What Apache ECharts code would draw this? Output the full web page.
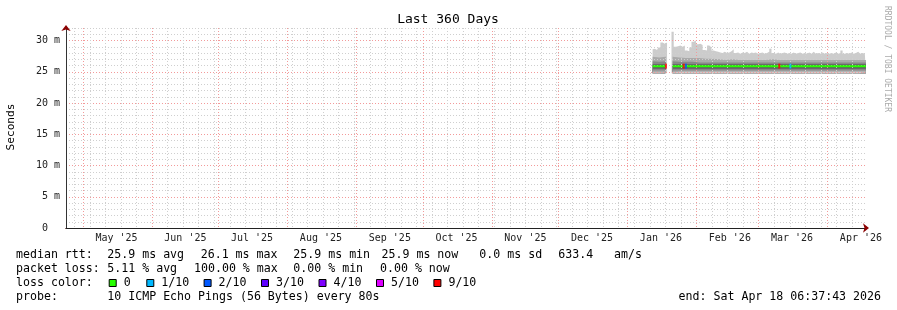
<!DOCTYPE html>
<html><head><meta charset="utf-8">
<script src="https://cdn.jsdelivr.net/npm/echarts@6/dist/echarts.min.js"></script>
<style>html,body{margin:0;padding:0;background:#fff}#c{width:897px;height:310px}</style>
</head><body><div id="c"></div><script>
// ---------- data ----------
const endTime = '2026-04-18T06:37:43Z';
const spanDays = 360;
const firstTopDay = '2026-01-12';
// daily maximum ping (top of smoke), ms; nulls = no data
const topVals = [28.6,28.7,28.5,28.9,29.7,29.5,29.7, null,null,
 31.4,29.0,29.1,29.2,29.0,29.2,28.4,28.3,28.9,29.8,30.0,
 29.4,29.5,29.3,28.5,28.4,29.2,28.9,28.4,28.3,28.2,28.1,28.0,28.2,28.0,28.1,28.3,28.6,28.0,28.1,27.9,28.1,28.0,28.2,27.9,28.1,28.0,28.1,27.9,
 28.0,28.1,27.9,28.0,28.2,28.7,28.0,27.9,28.1,27.9,28.0,28.1,27.9,28.0,27.9,28.1,27.9,28.0,28.1,27.9,28.0,27.9,28.1,27.9,28.2,27.9,28.0,27.9,28.1,27.9,28.0,
 27.9,28.0,27.9,28.1,27.9,28.0,28.4,27.9,28.0,27.9,28.1,27.9,28.0,28.2,27.9,28.0,27.9,28.0];
// lowest ping (bottom of smoke), ms
const smokeFloor = 24.75;
const bandDays = ['2026-01-12','2026-01-15','2026-01-18','2026-01-19','2026-01-21','2026-01-24','2026-01-27','2026-01-30',
 '2026-02-02','2026-02-05','2026-02-08','2026-02-11','2026-02-14','2026-02-17','2026-02-20','2026-02-23','2026-02-26',
 '2026-03-01','2026-03-04','2026-03-07','2026-03-10','2026-03-13','2026-03-16','2026-03-19','2026-03-22','2026-03-25','2026-03-28','2026-03-31',
 '2026-04-03','2026-04-06','2026-04-09','2026-04-12','2026-04-15','2026-04-18'];
const b2Lo = [24.9,24.9,24.9,null,24.9,25.0,25.0,25.0,25.0,25.0,25.0,25.0,25.0,25.0,25.0,25.0,25.0,25.0,25.0,25.0,25.0,25.0,25.0,25.0,25.0,25.0,25.0,25.0,25.0,25.0,25.0,25.0,25.0,25.0];
const b2Hi = [27.4,27.3,27.4,null,27.4,27.3,27.2,27.2,27.2,27.1,27.1,27.0,26.9,27.0,26.9,26.9,26.9,26.9,26.9,27.0,26.9,26.9,26.9,26.9,26.9,26.9,26.9,26.9,26.9,26.9,26.9,26.9,26.9,26.9];
const b3Lo = [25.2,25.2,25.2,null,25.2,25.2,25.2,25.2,25.2,25.2,25.2,25.2,25.2,25.2,25.2,25.2,25.2,25.2,25.2,25.2,25.2,25.2,25.2,25.2,25.2,25.2,25.2,25.2,25.2,25.2,25.2,25.2,25.2,25.2];
const b3Hi = [26.7,26.6,26.7,null,26.7,26.6,26.6,26.6,26.5,26.5,26.5,26.5,26.5,26.5,26.5,26.5,26.5,26.5,26.5,26.5,26.5,26.5,26.5,26.5,26.5,26.5,26.5,26.5,26.5,26.5,26.5,26.5,26.5,26.5];
const b4Lo = [25.5,25.5,25.5,null,25.5,25.5,25.5,25.5,25.5,25.5,25.5,25.5,25.5,25.5,25.5,25.5,25.5,25.5,25.5,25.5,25.5,25.5,25.5,25.5,25.5,25.5,25.5,25.5,25.5,25.5,25.5,25.5,25.5,25.5];
const b4Hi = [26.2,26.2,26.2,null,26.2,26.2,26.2,26.2,26.2,26.2,26.2,26.2,26.2,26.2,26.2,26.2,26.2,26.2,26.2,26.2,26.2,26.2,26.2,26.2,26.2,26.2,26.2,26.2,26.2,26.2,26.2,26.2,26.2,26.2];
const medianVals = [25.9,25.9,25.9,null,25.9,25.9,25.9,25.9,25.9,25.9,25.9,25.9,25.9,25.9,25.9,25.9,25.9,25.9,25.9,25.9,25.9,25.9,25.9,25.9,25.9,25.9,25.9,25.9,25.9,25.9,25.9,25.9,25.9,25.9];
// loss events on the median line
const lossDays = ['2026-01-18','2026-01-26','2026-01-27','2026-03-10','2026-03-15'];
const lossCounts = [9, 9, 2, 9, 1];
const lossMedian = [25.9, 25.9, 25.9, 25.9, 25.9];
// legend / axis texts
const lossLevels = ['0','1/10','2/10','3/10','4/10','5/10','9/10'];
const lossLevelCounts = [0,1,2,3,4,5,9];
const lossColors = ['#26ff00','#00b8ff','#0059ff','#5e00ff','#7e00ff','#dd00ff','#ff0000'];
const monthStarts = ['2025-05-01','2025-06-01','2025-07-01','2025-08-01','2025-09-01','2025-10-01','2025-11-01','2025-12-01','2026-01-01','2026-02-01','2026-03-01','2026-04-01'];
const monthLabels = ["May '25","Jun '25","Jul '25","Aug '25","Sep '25","Oct '25","Nov '25","Dec '25","Jan '26","Feb '26","Mar '26","Apr '26"];
const yMajorTicks = [5,10,15,20,25,30];
const yLabelTicks = [0,5,10,15,20,25,30];
const firstWeekLine = '2025-04-27';

// ---------- helpers ----------
const DAY = 86400000;
const END = Date.parse(endTime);
const START = END - spanDays * DAY;
const t = d => Date.parse(d + 'T06:00:00Z');
const topDays = topVals.map((v, i) => new Date(Date.parse(firstTopDay + 'T00:00:00Z') + i * DAY).toISOString().slice(0, 10));
const weekVals = [];
for (let w = Date.parse(firstWeekLine + 'T00:00:00Z'); w < END; w += 7 * DAY) weekVals.push(w);
const monthVals = monthStarts.map(d => Date.parse(d + 'T00:00:00Z'));
const labelVals = monthVals.map(v => v + 15 * DAY);
const MONO = '"DejaVu Sans Mono", monospace';
const colorOf = c => lossColors[lossLevelCounts.indexOf(c)] || '#ff0000';

// smoke: layered areas, each filled down to the smoke floor; later layers paint over earlier ones
function layer(name, days, vals, color, step) {
  return { type: 'line', name: name, symbol: 'none', silent: true, z: 1, connectNulls: false, step: step || false,
    lineStyle: { width: 0, opacity: 0 }, areaStyle: { color: color, opacity: 1, origin: smokeFloor },
    data: days.map((d, i) => [t(d), vals[i]]) };
}
const C_OUT = '#cccccc', C_B2 = '#aaaaaa', C_B3 = '#888888', C_B4 = '#606060';
const series = [
  layer('max', topDays, topVals, C_OUT, 'middle'),
  layer('b2Hi', bandDays, b2Hi, C_B2),
  layer('b3Hi', bandDays, b3Hi, C_B3),
  layer('b4Hi', bandDays, b4Hi, C_B4),
  layer('b4Lo', bandDays, b4Lo, C_B3),
  layer('b3Lo', bandDays, b3Lo, C_B2),
  layer('b2Lo', bandDays, b2Lo, C_OUT),
  { type: 'line', name: 'median', data: bandDays.map((d, i) => [t(d), medianVals[i]]), symbol: 'none', z: 4,
    lineStyle: { color: '#26ff00', width: 2 }, connectNulls: false },
  { type: 'scatter', name: 'loss', data: lossDays.map((d, i) => [t(d), lossMedian[i], lossCounts[i]]), z: 5,
    symbol: 'rect', symbolSize: [2, 5], itemStyle: { color: p => colorOf(p.value[2]) } }
];

// ---------- graphic texts ----------
const txt = (x, y, s, extra) => ({ type: 'text', x: x, y: y,
  style: Object.assign({ text: s, fill: '#000', font: '11.6px ' + MONO, align: 'left', verticalAlign: 'middle' }, extra || {}) });
const rows = [254.5, 268.5, 282.5, 296.5];
const graphics = [
  txt(448, 19.5, 'Last 360 Days', { font: '13px ' + MONO, align: 'center' }),
  Object.assign(txt(11, 127, 'Seconds', { font: '11.2px ' + MONO, align: 'center' }), { rotation: Math.PI / 2 }),
  Object.assign(txt(887, 59, 'RRDTOOL / TOBI OETIKER', { font: '8px ' + MONO, align: 'center', fill: '#aaaaaa' }), { rotation: -Math.PI / 2 }),
  txt(16, rows[0], 'median rtt:'), txt(107.3, rows[0], '25.9 ms avg'), txt(200.7, rows[0], '26.1 ms max'),
  txt(293.3, rows[0], '25.9 ms min'), txt(381.5, rows[0], '25.9 ms now'), txt(479.3, rows[0], '0.0 ms sd'),
  txt(558.3, rows[0], '633.4'), txt(614, rows[0], 'am/s'),
  txt(16, rows[1], 'packet loss:'), txt(107.3, rows[1], '5.11 % avg'), txt(194, rows[1], '100.00 % max'),
  txt(293.3, rows[1], '0.00 % min'), txt(380, rows[1], '0.00 % now'),
  txt(16, rows[2], 'loss color:'),
  txt(16, rows[3], 'probe:'), txt(107.3, rows[3], '10 ICMP Echo Pings (56 Bytes) every 80s'),
  txt(881, rows[3], 'end: Sat Apr 18 06:37:43 2026', { align: 'right' })
];
const sqX = [108.7, 146.3, 203.6, 261, 318.5, 376, 433.4];
lossLevels.forEach((lab, i) => {
  graphics.push({ type: 'rect', shape: { x: sqX[i] + 0.5, y: 279.5, width: 7, height: 7 },
    style: { fill: lossColors[i], stroke: '#000', lineWidth: 1 } });
  graphics.push(txt(sqX[i] + 15, rows[2], lab));
});

// ---------- chart ----------
const gridLine = { show: true, lineStyle: { color: '#cfcfcf', type: [1, 2], width: 1 } };
const majorLine = { show: true, lineStyle: { color: '#f39a9a', type: [1, 2], width: 1 } };
const noShow = { show: false };
const chart = echarts.init(document.getElementById('c'), null, { renderer: 'canvas' });
chart.setOption({
  backgroundColor: '#ffffff',
  animation: false,
  grid: { left: 66, right: 31, top: 28, bottom: 82, containLabel: false },
  xAxis: [
    { type: 'value', min: START, max: END, position: 'bottom', z: 3, axisLine: noShow, axisLabel: noShow,
      axisTick: { show: false, customValues: weekVals }, splitLine: gridLine },
    { type: 'value', min: START, max: END, position: 'bottom', z: 3, axisLabel: noShow,
      axisLine: { show: true, lineStyle: { color: '#8b0000', width: 1 }, symbol: ['none', 'arrow'], symbolSize: [7, 6], symbolOffset: [0, 3] },
      axisTick: { show: false, customValues: monthVals }, splitLine: majorLine },
    { type: 'value', min: START, max: END, position: 'bottom', z: 3, splitLine: noShow,
      axisLine: { show: true, lineStyle: { color: '#222', width: 1 } },
      axisTick: { show: false },
      axisLabel: { customValues: labelVals, margin: 5, fontFamily: MONO, fontSize: 10, color: '#222',
        formatter: v => monthLabels[labelVals.indexOf(v)] } }
  ],
  yAxis: [
    { type: 'value', min: 0, max: 32, interval: 1, position: 'left', z: 3, axisLine: noShow, axisLabel: noShow,
      axisTick: noShow, splitLine: gridLine },
    { type: 'value', min: 0, max: 32, position: 'left', z: 3, axisLabel: noShow,
      axisLine: { show: true, lineStyle: { color: '#8b0000', width: 1 }, symbol: ['none', 'arrow'], symbolSize: [7, 6], symbolOffset: [0, 3] },
      axisTick: { show: false, customValues: yMajorTicks }, splitLine: majorLine },
    { type: 'value', min: 0, max: 32, position: 'left', z: 3, splitLine: noShow,
      axisLine: { show: true, lineStyle: { color: '#333', width: 1 } }, axisTick: { show: false },
      axisLabel: { customValues: yLabelTicks, margin: 6, fontFamily: MONO, fontSize: 10, color: '#222',
        formatter: v => v === 0 ? '0  ' : v + ' m' } }
  ],
  series: series,
  graphic: graphics
});
</script></body></html>
